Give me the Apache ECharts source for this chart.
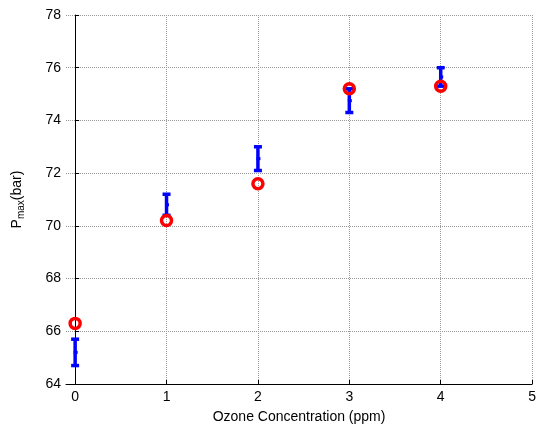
<!DOCTYPE html>
<html>
<head>
<meta charset="utf-8">
<script src="https://cdn.jsdelivr.net/npm/echarts@6/dist/echarts.min.js"></script>
<style>html,body{margin:0;padding:0;background:#fff}#c{width:539px;height:430px}</style>
</head>
<body>
<div id="c"></div>
<script>
var concentrations = [0, 1, 2, 3, 4];
var measured = [66.3, 70.2, 71.6, 75.2, 75.3];
var rangeLow = [64.7, 70.4, 72.1, 74.3, 75.3];
var rangeHigh = [65.7, 71.2, 73.0, 75.2, 76.0];
var rangeMean = [65.2, 70.8, 72.55, 74.75, 75.65];
var xTicks = [0, 1, 2, 3, 4, 5];
var yTicks = [64, 66, 68, 70, 72, 74, 76, 78];

var errData = concentrations.map(function (x, i) { return [x, rangeLow[i], rangeHigh[i], rangeMean[i]]; });
var ptData = concentrations.map(function (x, i) { return [x, measured[i]]; });

var chart = echarts.init(document.getElementById('c'), null, {renderer: 'canvas'});
var font = 'Liberation Sans, Arial, sans-serif';
chart.setOption({
  animation: false,
  backgroundColor: '#fff',
  grid: {left: 66, right: 6, top: 15, bottom: 46, containLabel: false},
  xAxis: {
    type: 'value', min: -0.1, max: 5,
    name: 'Ozone Concentration (ppm)', nameLocation: 'middle', nameGap: 26,
    nameTextStyle: {color: '#000', fontSize: 14, fontFamily: font},
    axisLine: {show: true, lineStyle: {color: '#000', width: 1}},
    axisTick: {show: true, inside: true, length: 4, lineStyle: {color: '#000'}, customValues: xTicks},
    axisLabel: {color: '#000', fontSize: 14, fontFamily: font, margin: 6, customValues: xTicks},
    splitLine: {show: true, lineStyle: {color: '#999', type: [1, 1], width: 1}}
  },
  yAxis: {
    type: 'value', min: 64, max: 78, interval: 2,
    name: '{n|P}{s|max}{n|(bar)}', nameLocation: 'middle', nameGap: 40, nameRotate: 90,
    nameTextStyle: {color: '#000', fontFamily: font, rich: {
      n: {fontSize: 14, fontFamily: font, color: '#000'},
      s: {fontSize: 10, fontFamily: font, color: '#000', verticalAlign: 'bottom', padding: [8, 0, 0, 0]}
    }},
    axisLine: {show: true, lineStyle: {color: '#000', width: 1}},
    axisTick: {show: true, inside: true, length: 4, lineStyle: {color: '#000'}},
    axisLabel: {color: '#000', fontSize: 14, fontFamily: font, margin: 5},
    splitLine: {show: true, lineStyle: {color: '#999', type: [1, 1], width: 1}}
  },
  series: [
    {
      type: 'custom',
      data: errData,
      z: 2,
      renderItem: function (params, api) {
        var x = api.value(0);
        var lo = api.coord([x, api.value(1)]);
        var hi = api.coord([x, api.value(2)]);
        var mid = api.coord([x, api.value(3)]);
        var col = '#0000ff';
        var s = {stroke: col, lineWidth: 3.5};
        return {
          type: 'group',
          children: [
            {type: 'line', shape: {x1: lo[0], y1: lo[1], x2: hi[0], y2: hi[1]}, style: s},
            {type: 'line', shape: {x1: lo[0] - 4, y1: lo[1], x2: lo[0] + 4, y2: lo[1]}, style: s},
            {type: 'line', shape: {x1: hi[0] - 4, y1: hi[1], x2: hi[0] + 4, y2: hi[1]}, style: s},
            {type: 'rect', shape: {x: mid[0] - 1.5, y: mid[1] - 1.5, width: 4, height: 3}, style: {fill: col}}
          ]
        };
      }
    },
    {
      type: 'scatter',
      data: ptData,
      z: 3,
      symbol: 'circle',
      symbolSize: 10,
      itemStyle: {color: 'rgba(0,0,0,0)', borderColor: '#ff0000', borderWidth: 3.5, opacity: 1}
    }
  ]
});
</script>
</body>
</html>
